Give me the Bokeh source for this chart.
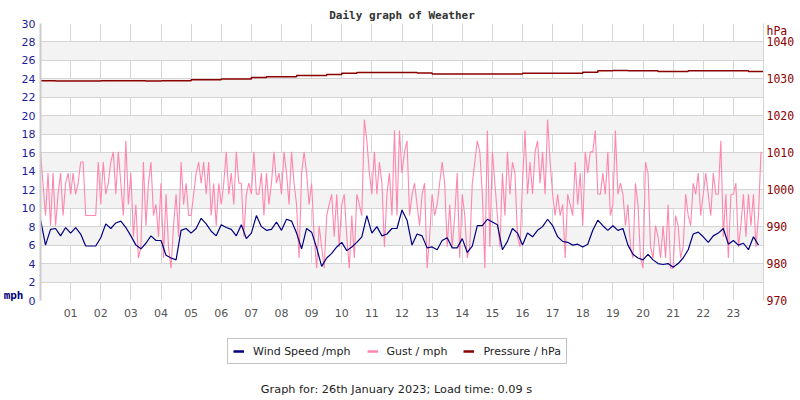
import numpy as np
from bokeh.plotting import figure
from bokeh.layouts import column
from bokeh.models import (Range1d, LinearAxis, FixedTicker, Legend, LegendItem,
                          Label)
from bokeh.embed import file_html
from bokeh.resources import INLINE

# ---------------- data ----------------
# wind speed (mph), every 10 minutes from 00:00
wind_speed = [
    8.8, 6.0, 7.7, 7.8, 7.0, 7.9,
    7.3, 7.9, 7.2, 5.9, 5.9, 5.9,
    6.8, 8.3, 7.8, 8.4, 8.6, 7.9,
    7.0, 6.0, 5.6, 6.2, 7.0, 6.5,
    6.5, 4.9, 4.6, 4.4, 7.6, 7.8,
    7.3, 7.8, 8.9, 8.3, 7.5, 7.0,
    8.2, 7.9, 7.7, 7.0, 8.2, 6.7,
    7.3, 9.2, 8.0, 7.6, 7.7, 8.5,
    7.6, 8.8, 8.6, 7.3, 5.6, 7.8,
    7.4, 5.7, 3.7, 4.6, 5.1, 5.8,
    6.3, 5.4, 5.8, 6.3, 6.9, 9.2,
    7.3, 8.0, 7.0, 7.2, 7.8, 7.8,
    9.8, 8.7, 6.0, 7.2, 7.0, 5.7,
    5.8, 5.5, 6.5, 6.8, 5.7, 5.7,
    6.7, 5.2, 5.9, 8.1, 8.1, 8.8,
    8.5, 8.2, 5.5, 6.4, 7.8, 7.3,
    6.0, 7.3, 6.9, 7.6, 8.0, 8.8,
    8.1, 6.9, 6.4, 6.3, 6.0, 6.1,
    5.8, 6.1, 7.6, 8.7, 8.1, 7.6,
    8.1, 7.6, 7.8, 6.0, 5.0, 4.6,
    4.4, 5.0, 4.4, 4.0, 3.9, 4.0,
    3.6, 4.0, 4.6, 5.5, 7.2, 7.4,
    6.9, 6.3, 7.0, 7.3, 7.8, 6.1,
    6.5, 6.0, 6.2, 5.5, 6.9, 6.0,
]

# gust (mph), every 5 minutes from 00:00
gust = [
    16.1, 12.7, 9.2, 13.8, 8.1, 13.8, 8.1, 11.5, 13.8, 9.2, 12.7, 13.8,
    11.5, 13.8, 11.5, 12.7, 15.0, 15.0, 9.2, 9.2, 9.2, 9.2, 9.2, 15.0,
    10.4, 15.0, 11.5, 12.7, 15.0, 16.1, 11.5, 16.1, 12.7, 9.2, 17.3, 10.4,
    13.8, 6.9, 10.4, 4.6, 5.8, 15.0, 8.1, 12.7, 15.0, 9.2, 10.4, 6.9,
    12.7, 4.6, 11.5, 5.8, 3.5, 8.1, 11.5, 6.9, 15.0, 10.4, 12.7, 9.2,
    9.2, 11.5, 13.8, 15.0, 12.7, 15.0, 11.5, 15.0, 9.2, 12.7, 8.1, 12.7,
    10.4, 12.7, 16.1, 11.5, 13.8, 10.4, 16.1, 12.7, 12.7, 6.9, 11.5, 12.7,
    11.5, 16.1, 11.5, 11.5, 13.8, 9.2, 13.8, 10.4, 12.7, 16.1, 12.7, 13.8,
    11.5, 16.1, 13.8, 10.4, 16.1, 12.7, 10.4, 4.6, 13.8, 16.1, 13.8, 10.4,
    12.7, 6.9, 3.5, 8.1, 5.8, 3.5, 9.2, 10.4, 11.5, 6.9, 11.5, 5.8,
    10.4, 11.5, 6.9, 3.5, 9.2, 4.6, 11.5, 10.4, 9.2, 19.6, 17.3, 13.8,
    11.5, 16.1, 11.5, 15.0, 12.7, 5.8, 11.5, 13.8, 9.2, 18.4, 9.2, 18.4,
    13.8, 16.1, 17.3, 9.2, 11.5, 12.7, 10.4, 8.1, 11.5, 12.7, 3.5, 6.9,
    11.5, 9.2, 10.4, 12.7, 15.0, 12.7, 5.8, 10.4, 5.8, 9.2, 13.8, 4.6,
    11.5, 9.2, 4.6, 5.8, 12.7, 15.0, 17.3, 16.1, 11.5, 3.5, 18.4, 5.8,
    16.1, 12.7, 9.2, 5.8, 13.8, 9.2, 16.1, 11.5, 15.0, 13.8, 6.9, 5.8,
    12.7, 18.4, 11.5, 15.0, 11.5, 16.1, 17.3, 12.7, 16.1, 11.5, 19.6, 15.0,
    11.5, 9.2, 11.5, 9.2, 10.4, 4.6, 11.5, 10.4, 9.2, 15.0, 10.4, 13.8,
    8.1, 16.1, 13.8, 16.1, 16.1, 18.4, 11.5, 11.5, 13.8, 11.5, 16.1, 9.2,
    10.4, 18.4, 11.5, 12.7, 11.5, 8.1, 10.4, 5.8, 4.6, 12.7, 10.4, 4.6,
    3.5, 15.0, 13.8, 5.8, 4.6, 8.1, 6.9, 4.6, 8.1, 4.6, 10.4, 3.5,
    3.5, 9.2, 8.1, 4.6, 5.8, 11.5, 9.2, 8.1, 12.7, 11.5, 13.8, 9.2,
    11.5, 13.8, 11.5, 9.2, 13.8, 11.5, 11.5, 17.3, 6.9, 11.5, 4.6, 11.5,
    11.5, 12.7, 5.8, 8.1, 11.5, 6.9, 11.5, 8.1, 11.5, 5.8, 9.2, 16.1,
]

# pressure (hPa), every 30 minutes from 00:00 to 24:00
pressure = [
    1029.5, 1029.4, 1029.4, 1029.4, 1029.5, 1029.5, 1029.5, 1029.4,
    1029.5, 1029.5, 1029.8, 1029.8, 1030.0, 1030.0, 1030.4, 1030.6,
    1030.6, 1030.9, 1030.9, 1031.2, 1031.5, 1031.7, 1031.7, 1031.7,
    1031.7, 1031.6, 1031.3, 1031.3, 1031.3, 1031.3, 1031.3, 1031.3,
    1031.5, 1031.5, 1031.5, 1031.5, 1031.8, 1032.2, 1032.3, 1032.2,
    1032.2, 1032.0, 1032.0, 1032.2, 1032.2, 1032.2, 1032.2, 1032.0,
    1031.8,
]

hour_ticks = list(range(1, 24))
hour_labels = ["%02d" % h for h in hour_ticks]
mph_ticks = list(range(0, 31, 2))
hpa_ticks = list(range(970, 1041, 10))
series_names = ["Wind Speed /mph", "Gust / mph", "Pressure / hPa"]
series_colors = ["#000080", "#ff86ad", "#8b0000"]
title_text = "Daily graph of Weather"
footer_text = "Graph for: 26th January 2023; Load time: 0.09 s"

wind_t = np.arange(len(wind_speed)) / 6.0
gust_t = np.arange(len(gust)) / 12.0
pres_t = np.arange(len(pressure)) / 2.0


def bare_ticks(axis):
    axis.major_tick_line_color = None
    axis.minor_tick_line_color = None
    axis.major_tick_out = 0
    axis.major_tick_in = 0
    axis.minor_tick_out = 0
    axis.minor_tick_in = 0


# ---------------- main figure ----------------
p = figure(width=800, height=330, x_range=Range1d(0, 24), y_range=Range1d(0, 30),
           output_backend="svg", toolbar_location=None,
           min_border_left=40, min_border_right=37, min_border_top=23,
           min_border_bottom=30, background_fill_color="white",
           border_fill_color="white", outline_line_color=None)
p.extra_y_ranges = {"hpa": Range1d(970, 1045)}

p.title.text = title_text
p.title.align = "center"
p.title.text_font = "DejaVu Sans Mono"
p.title.text_font_size = "11px"
p.title.text_font_style = "bold"
p.title.text_color = "#333333"
p.title.standoff = 4

# x axis
xa = p.xaxis[0]
xa.ticker = FixedTicker(ticks=hour_ticks)
xa.major_label_overrides = {t: l for t, l in zip(hour_ticks, hour_labels)}
bare_ticks(xa)
xa.axis_line_color = None
xa.major_label_standoff = 8
xa.major_label_text_font = "DejaVu Sans"
xa.major_label_text_font_size = "11px"
xa.major_label_text_color = "#555555"
p.xgrid.ticker = FixedTicker(ticks=hour_ticks)
p.xgrid.grid_line_color = "#d4d4d4"

# left axis
ya = p.yaxis[0]
ya.ticker = FixedTicker(ticks=mph_ticks)
bare_ticks(ya)
ya.axis_line_color = "#cccccc"
ya.axis_line_width = 2
ya.major_label_standoff = 5
ya.major_label_text_font = "DejaVu Sans"
ya.major_label_text_font_size = "11px"
ya.major_label_text_color = "#1c1c9c"
p.ygrid.grid_line_color = "#d4d4d4"
p.ygrid.band_fill_color = "#f3f3f3"
p.ygrid.band_fill_alpha = 1.0

# unit label "mph" as an outer left axis with one labelled tick
ua = LinearAxis(ticker=FixedTicker(ticks=[0.5]), major_label_overrides={0.5: "mph"})
bare_ticks(ua)
ua.axis_line_color = None
ua.major_label_standoff = -5
ua.major_label_text_font = "DejaVu Sans Mono"
ua.major_label_text_font_size = "11px"
ua.major_label_text_font_style = "bold"
ua.major_label_text_color = "#00007a"
p.add_layout(ua, "left")

# right axis (pressure) with unit label "hPa" on top
ra = LinearAxis(y_range_name="hpa", ticker=FixedTicker(ticks=hpa_ticks + [1043]),
                major_label_overrides={1043: "hPa"})
bare_ticks(ra)
ra.axis_line_color = "#d4d4d4"
ra.major_label_standoff = 3
ra.major_label_text_font = "DejaVu Sans Mono"
ra.major_label_text_font_size = "11.5px"
ra.major_label_text_color = "#8b0000"
p.add_layout(ra, "right")

# series
r_gust = p.line(gust_t, gust, line_color=series_colors[1], line_width=1.1)
r_wind = p.line(wind_t, wind_speed, line_color=series_colors[0], line_width=1.2)
r_pres = p.step(pres_t, pressure, mode="after", y_range_name="hpa",
                line_color=series_colors[2], line_width=1.5)

# ---------------- legend + footer strip ----------------
q = figure(width=800, height=70, x_range=Range1d(0, 800), y_range=Range1d(0, 70),
           output_backend="svg", toolbar_location=None, min_border=0,
           x_axis_type=None, y_axis_type=None, outline_line_color=None,
           background_fill_color="white", border_fill_color="white")
q.xgrid.visible = False
q.ygrid.visible = False
keys = [q.line(x=np.array([np.nan]), y=np.array([np.nan]), line_color=c, line_width=2.5)
        for c in series_colors]
legend = Legend(items=[LegendItem(label=n, renderers=[k]) for n, k in zip(series_names, keys)],
                orientation="horizontal", location=(187, 36),
                border_line_color="#888888", border_line_width=1,
                padding=5, spacing=16, label_standoff=9,
                glyph_width=11, glyph_height=14, label_height=14,
                label_text_font="DejaVu Sans", label_text_font_size="11px",
                label_text_color="#222222", margin=0,
                background_fill_color="white", background_fill_alpha=1)
q.add_layout(legend)
q.add_layout(Label(x=356, y=11.5, x_units="screen", y_units="screen",
                   text=footer_text, text_font="DejaVu Sans",
                   text_font_size="11.3px", text_color="#222222",
                   text_align="center", text_baseline="middle"))

open("out.html", "w").write(file_html(column(p, q, spacing=0), INLINE))
